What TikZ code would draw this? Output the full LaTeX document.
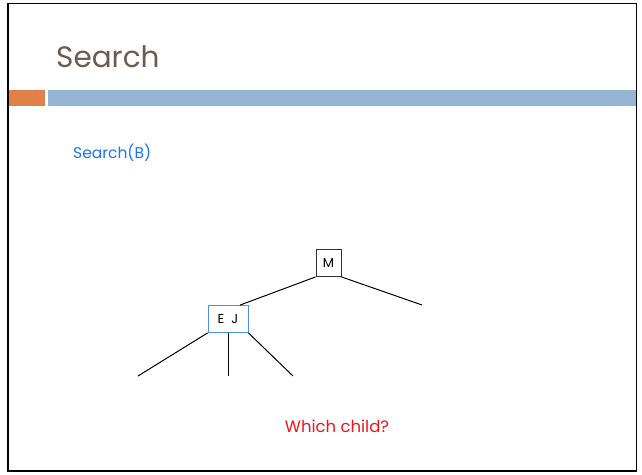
\documentclass[tikz,border=0pt]{standalone}
\usepackage{fontspec}
\setmainfont{Poppins}
\definecolor{titlebrown}{HTML}{6E5A50}
\definecolor{barorange}{HTML}{DF8149}
\definecolor{barblue}{HTML}{94B6D2}
\definecolor{textblue}{HTML}{1A75F0}
\definecolor{nodeblue}{HTML}{4A8EF0}
\definecolor{textred}{HTML}{F0141E}
\begin{document}
\begin{tikzpicture}[x=1pt,y=-1pt,
  keybox/.style={draw=#1,line width=0.8pt,minimum height=27pt,inner sep=0pt,font=\fontsize{13}{15}\selectfont},
  edge/.style={line width=1pt,black}]
\useasboundingbox (0,0) rectangle (642,474);
\fill[white] (0,0) rectangle (642,474);
\draw[line width=1.5pt] (8,3.5) rectangle (636.5,471);
\fill[barorange] (8.5,90) rectangle (45,106);
\fill[barblue] (48,90) rectangle (636,106);
\node[anchor=base west,text=titlebrown,font=\fontsize{29.5}{33}\selectfont,inner sep=0pt] (title) at (56,67) {Search};
\node[anchor=west,text=textblue,font=\fontsize{15.5}{18}\selectfont,inner sep=0pt] (call) at (73,153) {Search(B)};
\node[anchor=center,text=textred,font=\fontsize{16.5}{19}\selectfont,inner sep=0pt] (q) at (337,426) {Which child?};
\node[keybox=black!80,minimum width=25pt] (M) at (328.5,263) {M};
\node[keybox=nodeblue,minimum width=40pt] (EJ) at (228,319) {E\hspace{7pt}J};
\coordinate (r) at (422,305);
\coordinate (c1) at (138,376);
\coordinate (c2) at (228,376);
\coordinate (c3) at (293,376);
\draw[edge] (M.south west) -- ([xshift=12pt]EJ.north);
\draw[edge] (M.south east) -- (r);
\draw[edge] (EJ.south west) -- (c1);
\draw[edge] (EJ.south) -- (c2);
\draw[edge] (EJ.south east) -- (c3);
\end{tikzpicture}
\end{document}
